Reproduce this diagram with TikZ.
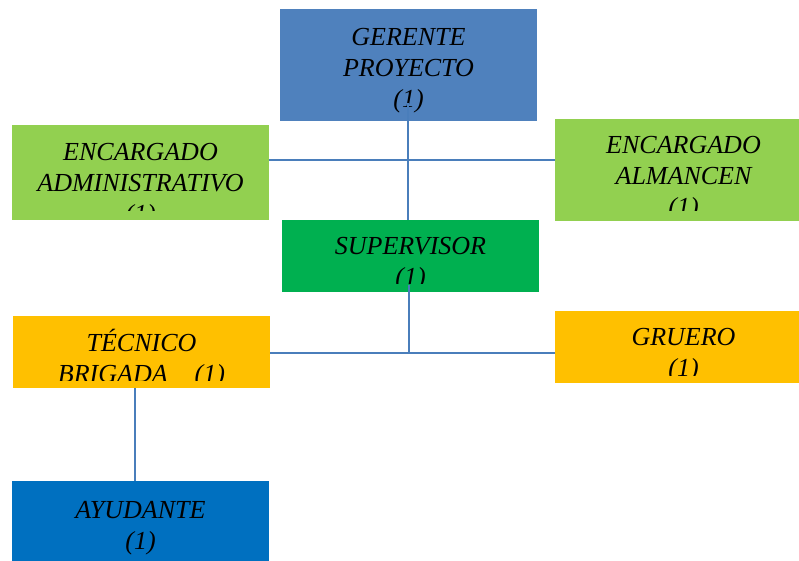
\documentclass[tikz,border=0pt]{standalone}
\usepackage{fontspec}
\setmainfont{Liberation Serif}
\definecolor{gerblue}{HTML}{4F81BD}
\definecolor{encgreen}{HTML}{92D050}
\definecolor{supgreen}{HTML}{00B050}
\definecolor{tecorange}{HTML}{FFC000}
\definecolor{ayublue}{HTML}{0070C0}
\definecolor{linkblue}{HTML}{4A7EBB}

\begin{document}
\begin{tikzpicture}[x=1pt, y=1pt,
    box/.style = {fill=#1, minimum width=257pt, inner sep=0pt, outer sep=0pt, anchor=north west},
    txt/.style = {font=\itshape\fontsize{26}{31}\selectfont, align=center, anchor=base, inner sep=0pt},
    link/.style = {draw=linkblue, line width=2pt}]
    \clip (0,0) rectangle (799,-560);
    % boxes
    \node[box=gerblue, minimum height=112pt] (ger) at (280,-9) {};
    \node[box=encgreen, minimum height=95pt] (adm) at (12,-125) {};
    \node[box=encgreen, minimum height=102pt] (alm) at (555,-119) {};
    \node[box=supgreen, minimum height=72pt] (sup) at (282,-220) {};
    \node[box=tecorange, minimum height=72pt] (tec) at (13,-316) {};
    \node[box=tecorange, minimum height=72pt] (gru) at (555,-311) {};
    \node[box=ayublue, minimum height=90pt] (aya) at (12,-481) {};
    % texts (base = last line)
    \node[txt] (gertxt) at ([yshift=-98pt]ger.north) {GERENTE\\PROYECTO\\(1)};
    \begin{scope}
        \clip (adm.north west) rectangle ([yshift=10pt]adm.south east);
        \node[txt] (admtxt) at ([yshift=-97pt]adm.north) {ENCARGADO\\ADMINISTRATIVO\\(1)};
    \end{scope}
    \begin{scope}
        \clip (alm.north west) rectangle ([yshift=11pt]alm.south east);
        \node[txt] (almtxt) at ([yshift=-96pt]alm.north) {ENCARGADO\\ALMANCEN\\(1)};
    \end{scope}
    \begin{scope}
        \clip (sup.north west) rectangle ([yshift=9pt]sup.south east);
        \node[txt] (suptxt) at ([yshift=-65pt]sup.north) {SUPERVISOR\\(1)};
    \end{scope}
    \begin{scope}
        \clip (tec.north west) rectangle ([yshift=8pt]tec.south east);
        \node[txt] (tectxt) at ([yshift=-66pt]tec.north) {TÉCNICO\\BRIGADA\hspace{27pt}(1)};
    \end{scope}
    \begin{scope}
        \clip (gru.north west) rectangle ([yshift=8pt]gru.south east);
        \node[txt] (grutxt) at ([yshift=-65pt]gru.north) {GRUERO\\(1)};
    \end{scope}
    \node[txt] (ayutxt) at ([yshift=-68pt]aya.north) {AYUDANTE\\(1)};
    % links
    \coordinate (top) at (0,-160);
    \coordinate (mid) at (0,-353);
    \draw[link] ([shift={(-1pt,18pt)}]ger.south) -- ([xshift=-1pt]ger.south |- sup.north);
    \draw[link] (top -| adm.east) -- (top -| alm.west);
    \draw[link] ([yshift=7pt]ger.south |- sup.south) -- (ger.south |- mid);
    \draw[link] (mid -| tec.east) -- (mid -| gru.west);
    \draw[link] ([xshift=-7pt]tec.south) -- ([xshift=-7pt]tec.south |- aya.north);
\end{tikzpicture}
\end{document}
